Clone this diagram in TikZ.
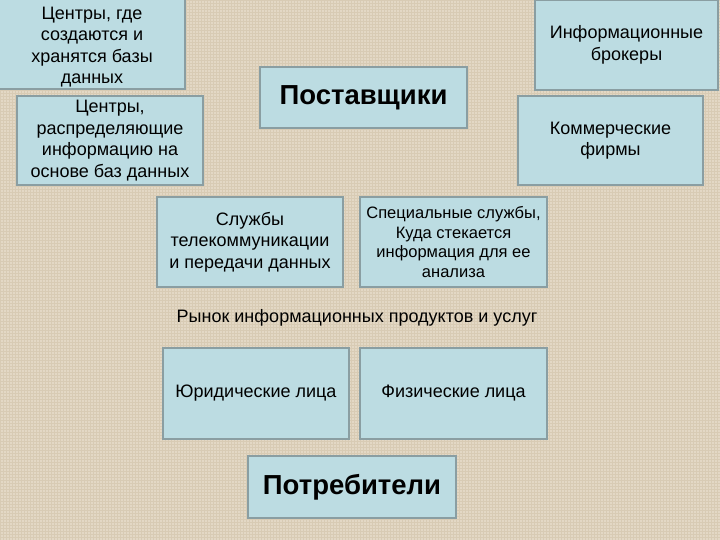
\documentclass[tikz,border=0pt]{standalone}
\usepackage{fontspec}
\setmainfont{Liberation Sans}
\usepackage{xcolor}
\usetikzlibrary{patterns}
\definecolor{canvas}{HTML}{E3D8C5}
\definecolor{weave}{HTML}{D8CBB4}
\definecolor{boxfill}{HTML}{BCDCE2}
\definecolor{boxline}{HTML}{8A9EA2}

\begin{document}
\begin{tikzpicture}[x=1pt,y=-1pt,
  box/.style={draw=boxline,line width=1.8pt,fill=boxfill,align=center,inner sep=0pt,
    font=\fontsize{18}{21.5}\selectfont},
  smallbox/.style={box,font=\fontsize{16.5}{19.5}\selectfont},
  bigbox/.style={box,font=\fontsize{27.5}{30}\selectfont\bfseries}]
\fill[canvas] (0,0) rectangle (720,540);
\fill[pattern=grid,pattern color=weave] (0,0) rectangle (720,540);
\useasboundingbox (0,0) rectangle (720,540);
\clip (0,0) rectangle (720,540);
% postavshchiki
\node[box,minimum width=188,minimum height=100] (create) at (91,39) {};
\node[align=center,font=\fontsize{18}{21.5}\selectfont] (createtxt) at (92,47)
  {Центры, где\\создаются и\\хранятся базы\\данных};
\node[box,minimum width=186,minimum height=89] (distrib) at (110,140.5)
  {Центры,\\распределяющие\\информацию на\\основе баз данных};
\node[bigbox,minimum width=207,minimum height=61] (supp) at (363.5,97.5) {Поставщики};
\node[box,minimum width=183,minimum height=90] (broker) at (626.5,45)
  {Информационные\\брокеры};
\node[box,minimum width=185,minimum height=89] (firms) at (610.5,140.5)
  {Коммерческие\\фирмы};
\node[box,minimum width=186,minimum height=90] (telecom) at (250,242)
  {Службы\\телекоммуникации\\и передачи данных};
\node[smallbox,minimum width=187,minimum height=90] (special) at (453.5,242)
  {Специальные службы,\\Куда стекается\\информация для ее\\анализа};
% rynok
\node[font=\fontsize{18}{21}\selectfont] (market) at (357,318)
  {Рынок информационных продуктов и услуг};
% potrebiteli
\node[box,minimum width=186,minimum height=91] (legal) at (256,393.5) {Юридические лица};
\node[box,minimum width=187,minimum height=91] (phys) at (453.5,393.5) {Физические лица};
\node[bigbox,minimum width=208,minimum height=62] (cons) at (352,487) {Потребители};
\end{tikzpicture}
\end{document}
